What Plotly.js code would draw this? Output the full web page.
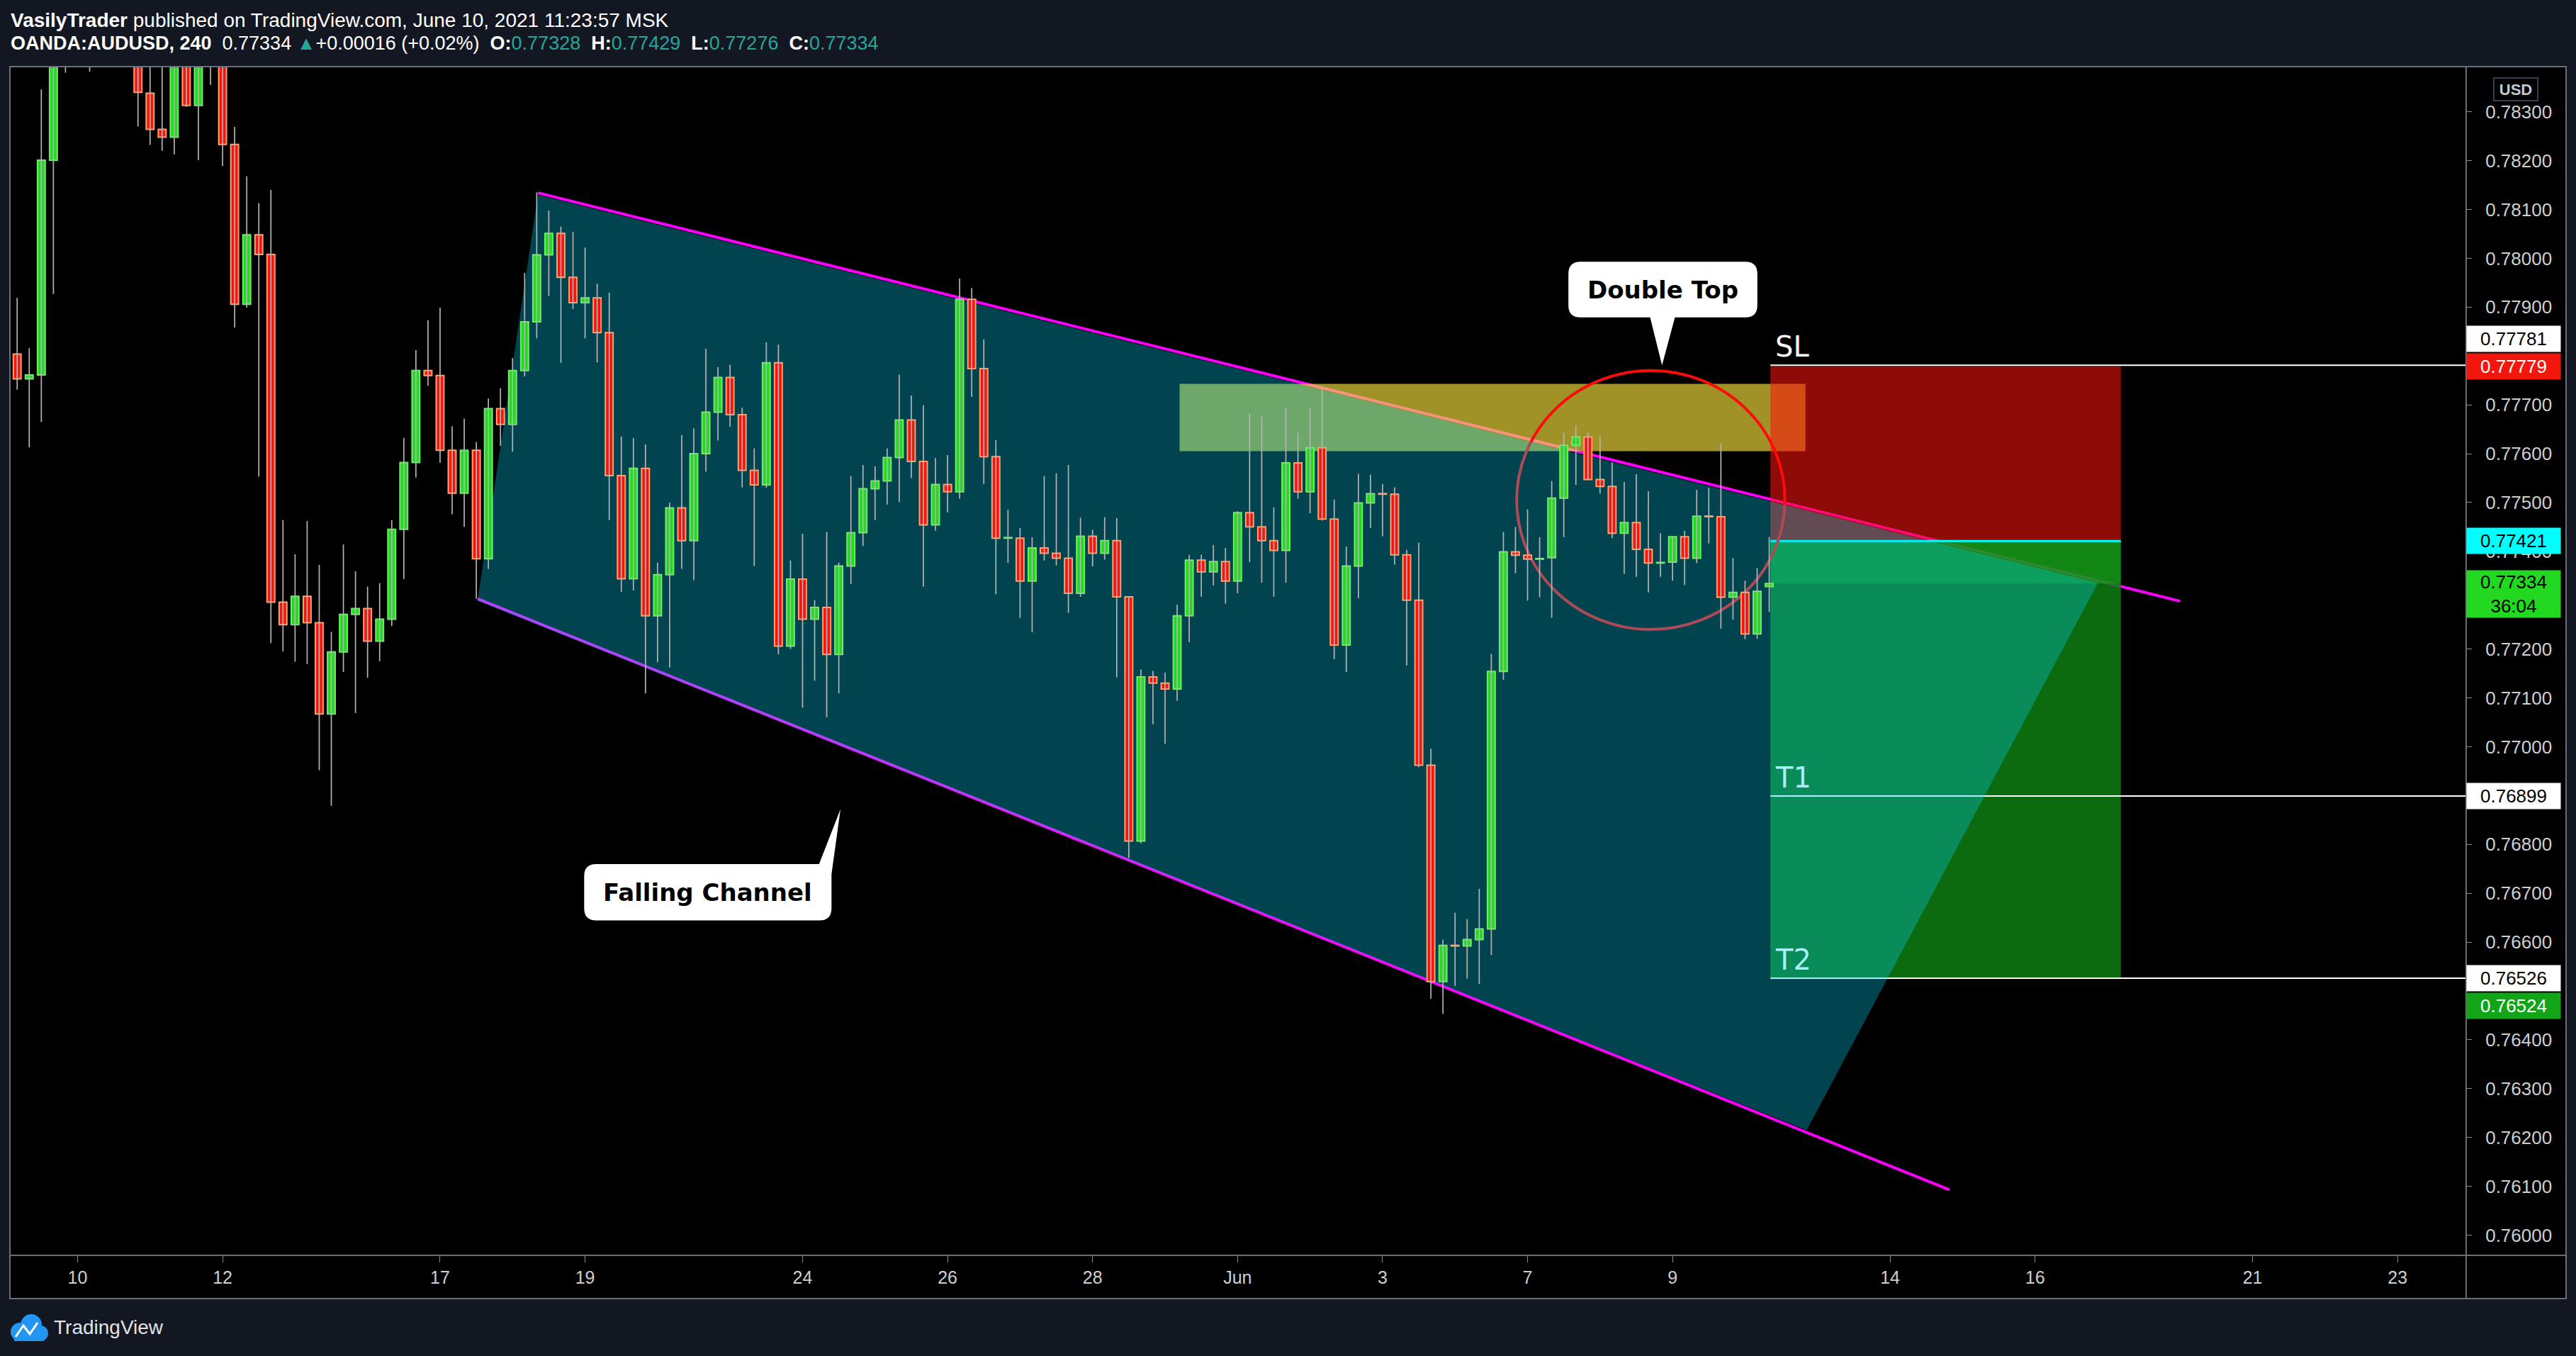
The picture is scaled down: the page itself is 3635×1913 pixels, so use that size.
<!DOCTYPE html>
<html>
<head>
<meta charset="utf-8">
<script src="https://cdn.plot.ly/plotly-3.0.1.min.js"></script>
<style>
html,body{margin:0;padding:0;background:#131722;}
#chart{width:3635px;height:1913px;}
</style>
</head>
<body>
<div id="chart"></div>
<script>
// ---------------- DATA (OANDA:AUDUSD, 4h) ----------------
const firstCandleIndex = -6; // candle index 0 = 10 May 00:00 (weekends skipped, 6 candles per day)
const candleOpen = [
0.77843,0.77804,0.77753,0.77761,0.78201,0.78420,0.78440,0.78460,0.78420,0.78445,
0.78430,0.78425,0.78338,0.78264,0.78248,0.78415,0.78313,0.78420,0.78430,0.78233,
0.77906,0.78048,0.78008,0.77296,0.77250,0.77308,0.77254,0.77067,0.77194,0.77271,
0.77283,0.77216,0.77261,0.77445,0.77582,0.77770,0.77760,0.77607,0.77519,0.77607,
0.77385,0.77692,0.77660,0.77770,0.77870,0.78007,0.78051,0.77961,0.77909,0.77919,
0.77848,0.77555,0.77344,0.77570,0.77268,0.77352,0.77489,0.77422,0.77600,0.77685,
0.77756,0.77680,0.77566,0.77536,0.77786,0.77206,0.77343,0.77261,0.77285,0.77189,
0.77370,0.77438,0.77528,0.77544,0.77592,0.77669,0.77584,0.77454,0.77537,0.77522,
0.77916,0.77774,0.77594,0.77427,0.77427,0.77339,0.77407,0.77396,0.77386,0.77314,
0.77431,0.77396,0.77422,0.77307,0.76807,0.77143,0.77130,0.77118,0.77268,0.77382,
0.77358,0.77379,0.77339,0.77479,0.77450,0.77422,0.77402,0.77581,0.77522,0.77612,
0.77466,0.77208,0.77370,0.77499,0.77518,0.77517,0.77393,0.77300,0.76962,0.76519,
0.76593,0.76592,0.76605,0.76627,0.77154,0.77399,0.77392,0.77384,0.77387,0.77509,
0.77617,0.77634,0.77547,0.77533,0.77437,0.77459,0.77404,0.77376,0.77378,0.77430,
0.77386,0.77472,0.77471,0.77306,0.77316,0.77231,0.77328];
const candleHigh = [
0.77870,0.77919,0.77816,0.78346,0.78450,0.78480,0.78490,0.78480,0.78475,0.78465,
0.78455,0.78445,0.78400,0.78400,0.78440,0.78440,0.78450,0.78460,0.78450,0.78269,
0.78168,0.78113,0.78140,0.77464,0.77394,0.77462,0.77372,0.77235,0.77414,0.77359,
0.77328,0.77335,0.77464,0.77632,0.77812,0.77873,0.77899,0.77656,0.77672,0.77624,
0.77713,0.77734,0.77796,0.77970,0.78135,0.78098,0.78065,0.78054,0.78022,0.77948,
0.77930,0.77635,0.77632,0.77619,0.77377,0.77500,0.77638,0.77652,0.77815,0.77777,
0.77782,0.77694,0.77611,0.77828,0.77823,0.77381,0.77436,0.77300,0.77440,0.77377,
0.77554,0.77577,0.77574,0.77611,0.77762,0.77719,0.77699,0.77591,0.77597,0.77959,
0.77939,0.77834,0.77628,0.77485,0.77448,0.77429,0.77554,0.77560,0.77577,0.77469,
0.77444,0.77470,0.77468,0.77307,0.77158,0.77155,0.77152,0.77291,0.77393,0.77393,
0.77413,0.77407,0.77482,0.77682,0.77677,0.77490,0.77693,0.77643,0.77693,0.77736,
0.77506,0.77410,0.77559,0.77557,0.77538,0.77531,0.77403,0.77418,0.76996,0.76605,
0.76660,0.76647,0.76709,0.77190,0.77440,0.77450,0.77486,0.77429,0.77544,0.77643,
0.77658,0.77644,0.77635,0.77582,0.77542,0.77558,0.77523,0.77437,0.77430,0.77442,
0.77526,0.77530,0.77621,0.77386,0.77340,0.77366,0.77429];
const candleLow = [
0.77790,0.77731,0.77613,0.77665,0.77927,0.78380,0.78405,0.78382,0.78400,0.78405,
0.78402,0.78270,0.78232,0.78220,0.78213,0.78310,0.78201,0.78355,0.78189,0.77858,
0.77899,0.77553,0.77212,0.77195,0.77174,0.77169,0.76952,0.76879,0.77153,0.77069,
0.77141,0.77175,0.77247,0.77343,0.77551,0.77739,0.77581,0.77476,0.77450,0.77303,
0.77364,0.77616,0.77604,0.77758,0.77836,0.77923,0.77786,0.77896,0.77836,0.77787,
0.77464,0.77317,0.77320,0.77109,0.77173,0.77162,0.77364,0.77341,0.77563,0.77627,
0.77655,0.77531,0.77370,0.77530,0.77189,0.77200,0.77080,0.77135,0.77060,0.77109,
0.77333,0.77411,0.77464,0.77496,0.77501,0.77550,0.77328,0.77442,0.77480,0.77508,
0.77716,0.77538,0.77312,0.77376,0.77264,0.77234,0.77381,0.77371,0.77274,0.77307,
0.77369,0.77383,0.77142,0.76772,0.76802,0.77046,0.77006,0.77094,0.77214,0.77307,
0.77330,0.77293,0.77314,0.77378,0.77336,0.77307,0.77336,0.77508,0.77478,0.77463,
0.77179,0.77153,0.77304,0.77448,0.77431,0.77373,0.77166,0.76958,0.76484,0.76453,
0.76510,0.76525,0.76514,0.76573,0.77137,0.77355,0.77299,0.77306,0.77264,0.77429,
0.77536,0.77547,0.77518,0.77427,0.77354,0.77348,0.77316,0.77348,0.77340,0.77331,
0.77376,0.77416,0.77242,0.77260,0.77220,0.77221,0.77276];
const candleClose = [
0.77804,0.77753,0.77761,0.78201,0.78420,0.78440,0.78460,0.78420,0.78445,0.78430,
0.78425,0.78340,0.78264,0.78248,0.78415,0.78313,0.78420,0.78430,0.78233,0.77906,
0.78048,0.78008,0.77296,0.77250,0.77308,0.77254,0.77067,0.77194,0.77271,0.77283,
0.77216,0.77261,0.77445,0.77582,0.77770,0.77760,0.77607,0.77519,0.77607,0.77385,
0.77692,0.77660,0.77770,0.77870,0.78007,0.78051,0.77961,0.77909,0.77919,0.77848,
0.77555,0.77344,0.77570,0.77268,0.77352,0.77489,0.77422,0.77600,0.77685,0.77756,
0.77680,0.77566,0.77536,0.77786,0.77206,0.77343,0.77261,0.77285,0.77189,0.77370,
0.77438,0.77528,0.77544,0.77592,0.77669,0.77584,0.77454,0.77537,0.77522,0.77916,
0.77774,0.77594,0.77427,0.77428,0.77339,0.77407,0.77396,0.77386,0.77314,0.77431,
0.77396,0.77422,0.77307,0.76807,0.77143,0.77130,0.77118,0.77268,0.77382,0.77358,
0.77379,0.77339,0.77479,0.77450,0.77422,0.77402,0.77581,0.77522,0.77612,0.77466,
0.77208,0.77370,0.77499,0.77518,0.77517,0.77393,0.77300,0.76962,0.76519,0.76593,
0.76592,0.76605,0.76627,0.77154,0.77399,0.77392,0.77384,0.77385,0.77509,0.77617,
0.77634,0.77547,0.77533,0.77437,0.77459,0.77404,0.77376,0.77377,0.77430,0.77386,
0.77472,0.77471,0.77306,0.77316,0.77231,0.77318,0.77334];

const dayTickIndex = [0,12,30,42,60,72,84,96,108,120,132,150,162,180,192];
const dayTickText  = ['10','12','17','19','24','26','28','Jun','3','7','9','14','16','21','23'];
const priceTicks = [0.760,0.761,0.762,0.763,0.764,0.765,0.766,0.767,0.768,0.769,0.770,0.771,
                    0.772,0.773,0.774,0.775,0.776,0.777,0.778,0.779,0.780,0.781,0.782,0.783];
const hiddenPriceTicks = [0.765, 0.769, 0.773, 0.778]; // covered by the price-axis labels in the original
const xRange = [-5.54, 197.62];
const yRange = [0.759585, 0.78391];

// drawings (candle index, price)
const upperLineX = [38.1, 174.0],  upperLineY = [0.78134, 0.77298];
const lowerLineX = [33.1, 154.9],  lowerLineY = [0.77303, 0.76093];
const channelFillRightX = [167.2, 143.1];             // right corners of the shaded channel (upper, lower)
const zoneX = [91.2, 143.0], zoneY = [0.77605, 0.77743]; // resistance zone
const positionX = [140.1, 169.1];
const entryPrice = 0.77421, stopPrice = 0.77779, targetPrice = 0.76524, lastPrice = 0.77334;
const levelNames = ['SL', 'T1', 'T2'];
const levelPrices = [0.77781, 0.76899, 0.76526];
const ellipseX = [119.1, 141.3], ellipseY = [0.77240, 0.77770];
const calloutText = ['Double Top', 'Falling Channel'];
const calloutX = [131.2, 52.16], calloutY = [0.77936, 0.76702];
const calloutTipX = [131.13, 63.14], calloutTipY = [0.77781, 0.76872];

// ---------------- LAYOUT GEOMETRY ----------------
const W = 3635, H = 1913;
const M = {l: 15, r: 156, t: 95, b: 142};
const plotW = W - M.l - M.r, plotH = H - M.t - M.b;
const ux = (xRange[1] - xRange[0]) / plotW;   // x units per px
const uy = (yRange[1] - yRange[0]) / plotH;   // price per px
const pxX = p => (p - M.l) / plotW;           // page px -> paper
const pxY = p => (H - M.b - p) / plotH;

const GREEN = '#25d821', GREEN_B = '#72ea6e', RED = '#f5150f', RED_B = '#ffa26f', WICK = '#b4b4b4';

// ---------------- TRACES ----------------
const candleX = candleOpen.map((_, k) => firstCandleIndex + k);
const up = candleClose.map((c, k) => c >= candleOpen[k]);
const wx = [], wy = [];
candleX.forEach((x, k) => { wx.push(x, x, null); wy.push(candleLow[k], candleHigh[k], null); });
const wicks = {type: 'scatter', mode: 'lines', x: wx, y: wy, line: {color: WICK, width: 1.7},
               hoverinfo: 'skip', connectgaps: false};
const bodies = {
  type: 'bar', x: candleX,
  base: candleOpen.map((o, k) => Math.min(o, candleClose[k])),
  y: candleOpen.map((o, k) => Math.max(Math.abs(candleClose[k] - o), 0.000012)),
  width: 0.64,
  marker: {color: up.map(u => u ? GREEN : RED), line: {color: up.map(u => u ? GREEN_B : RED_B), width: 2}},
  hoverinfo: 'skip'
};

// ---------------- SHAPES ----------------
const lineAt = (xs, ys, x) => ys[0] + (ys[1] - ys[0]) * (x - xs[0]) / (xs[1] - xs[0]);
const shapes = [];
// black chart frame (plot + axis bands)
shapes.push({type: 'rect', xref: 'paper', yref: 'paper', x0: pxX(14), x1: pxX(3621), y0: pxY(1832), y1: pxY(94),
  fillcolor: '#000000', line: {width: 0}, layer: 'below'});
// channel lines
shapes.push({type: 'line', x0: upperLineX[0], y0: upperLineY[0], x1: upperLineX[1], y1: upperLineY[1],
  line: {color: '#ff00ff', width: 4}, layer: 'below'});
shapes.push({type: 'line', x0: lowerLineX[0], y0: lowerLineY[0], x1: lowerLineX[1], y1: lowerLineY[1],
  line: {color: '#ff00ff', width: 4}, layer: 'below'});
// resistance zone
shapes.push({type: 'rect', x0: zoneX[0], x1: zoneX[1], y0: zoneY[0], y1: zoneY[1],
  fillcolor: 'rgba(246,225,60,0.65)', line: {width: 0}, layer: 'below'});
// short position: stop area, profit area, open-profit band
shapes.push({type: 'rect', x0: positionX[0], x1: positionX[1], y0: entryPrice, y1: stopPrice,
  fillcolor: 'rgba(255,20,12,0.56)', line: {width: 0}, layer: 'below'});
shapes.push({type: 'rect', x0: positionX[0], x1: positionX[1], y0: targetPrice, y1: entryPrice,
  fillcolor: 'rgba(14,126,18,0.85)', line: {width: 0}, layer: 'below'});
shapes.push({type: 'rect', x0: positionX[0], x1: positionX[1], y0: lastPrice, y1: entryPrice,
  fillcolor: 'rgba(40,210,40,0.28)', line: {width: 0}, layer: 'below'});
// SL / T1 / T2 level rays
levelPrices.forEach(p => shapes.push({type: 'line', x0: positionX[0], x1: xRange[1] + 5, y0: p, y1: p,
  line: {color: '#ffffff', width: 2}, layer: 'below'}));
// entry line
shapes.push({type: 'line', x0: positionX[0], x1: positionX[1], y0: entryPrice, y1: entryPrice,
  line: {color: '#00ffff', width: 3}, layer: 'below'});
// double top ellipse
shapes.push({type: 'circle', x0: ellipseX[0], x1: ellipseX[1], y0: ellipseY[0], y1: ellipseY[1],
  line: {color: '#ff0a0a', width: 4}, layer: 'below'});
// shaded channel
const off = 3 * uy;
const tealPts = [
  [upperLineX[0], upperLineY[0] - off],
  [channelFillRightX[0], lineAt(upperLineX, upperLineY, channelFillRightX[0]) - off],
  [channelFillRightX[1], lineAt(lowerLineX, lowerLineY, channelFillRightX[1]) + off],
  [lowerLineX[0], lowerLineY[0] - off]
];
shapes.push({type: 'path', path: 'M ' + tealPts.map(p => p[0] + ',' + p[1]).join(' L ') + ' Z',
  fillcolor: 'rgba(3,212,247,0.32)', line: {width: 0}, layer: 'below'});

// callouts (rounded boxes with pointers)
function P(cx, cy, ox, oy) { return (cx + ox * ux) + ',' + (cy - oy * uy); }
(function () {
  const cx = calloutX[0], cy = calloutY[0], hw = 133.3, hh = 39.2, r = 17;
  const path = 'M ' + P(cx, cy, -hw + r, -hh) + ' L ' + P(cx, cy, hw - r, -hh) +
    ' Q ' + P(cx, cy, hw, -hh) + ' ' + P(cx, cy, hw, -hh + r) +
    ' L ' + P(cx, cy, hw, hh - r) + ' Q ' + P(cx, cy, hw, hh) + ' ' + P(cx, cy, hw - r, hh) +
    ' L ' + P(cx, cy, 17, hh) + ' L ' + calloutTipX[0] + ',' + calloutTipY[0] +
    ' L ' + P(cx, cy, -18, hh) + ' L ' + P(cx, cy, -hw + r, hh) +
    ' Q ' + P(cx, cy, -hw, hh) + ' ' + P(cx, cy, -hw, hh - r) +
    ' L ' + P(cx, cy, -hw, -hh + r) + ' Q ' + P(cx, cy, -hw, -hh) + ' ' + P(cx, cy, -hw + r, -hh) + ' Z';
  shapes.push({type: 'path', path: path, fillcolor: '#ffffff', line: {width: 0}, layer: 'above'});
})();
(function () {
  const cx = calloutX[1], cy = calloutY[1], hw = 174.5, hh = 39.65, r = 17;
  const path = 'M ' + P(cx, cy, -hw + r, -hh) + ' L ' + P(cx, cy, 157, -hh) +
    ' L ' + calloutTipX[1] + ',' + calloutTipY[1] + ' L ' + P(cx, cy, hw, -25.3) +
    ' L ' + P(cx, cy, hw, hh - r) + ' Q ' + P(cx, cy, hw, hh) + ' ' + P(cx, cy, hw - r, hh) +
    ' L ' + P(cx, cy, -hw + r, hh) + ' Q ' + P(cx, cy, -hw, hh) + ' ' + P(cx, cy, -hw, hh - r) +
    ' L ' + P(cx, cy, -hw, -hh + r) + ' Q ' + P(cx, cy, -hw, -hh) + ' ' + P(cx, cy, -hw + r, -hh) + ' Z';
  shapes.push({type: 'path', path: path, fillcolor: '#ffffff', line: {width: 0}, layer: 'above'});
})();

// frame lines
const FRAME = '#6b6e78';
shapes.push({type: 'rect', xref: 'paper', yref: 'paper', x0: pxX(14), x1: pxX(3621), y0: pxY(1832), y1: pxY(94),
  line: {color: FRAME, width: 2}, layer: 'above'});
shapes.push({type: 'line', xref: 'paper', yref: 'paper', x0: pxX(14), x1: pxX(3621), y0: pxY(1771), y1: pxY(1771),
  line: {color: FRAME, width: 2}, layer: 'above'});
shapes.push({type: 'line', xref: 'paper', yref: 'paper', x0: pxX(3480), x1: pxX(3480), y0: pxY(1832), y1: pxY(94),
  line: {color: FRAME, width: 2}, layer: 'above'});
// TradingView logo (cloud)
[[28, 1879, 13], [44, 1869, 15], [57, 1881, 11]].forEach(c => shapes.push({type: 'circle', xref: 'paper', yref: 'paper',
  x0: pxX(c[0] - c[2]), x1: pxX(c[0] + c[2]), y0: pxY(c[1] + c[2]), y1: pxY(c[1] - c[2]),
  fillcolor: '#2196f3', line: {width: 0}, layer: 'above'}));
shapes.push({type: 'rect', xref: 'paper', yref: 'paper', x0: pxX(20), x1: pxX(62), y0: pxY(1892), y1: pxY(1880),
  fillcolor: '#2196f3', line: {width: 0}, layer: 'above'});
shapes.push({type: 'path', xref: 'paper', yref: 'paper',
  path: 'M ' + pxX(22) + ',' + pxY(1886) + ' L ' + pxX(33) + ',' + pxY(1870) + ' L ' + pxX(42) + ',' + pxY(1882) +
        ' L ' + pxX(53) + ',' + pxY(1866),
  line: {color: '#ffffff', width: 3}, layer: 'above'});

// ---------------- ANNOTATIONS ----------------
const ann = [];
const TXT = 'Liberation Sans, Arial, sans-serif';
const TEAL = '#26a69a';
const n = candleClose.length - 1;
const chg = candleClose[n] - candleClose[n - 1];
const chgPct = chg / candleClose[n - 1] * 100;
ann.push({xref: 'paper', yref: 'paper', x: pxX(13), y: pxY(29), xanchor: 'left', yanchor: 'middle', showarrow: false,
  text: '<b>VasilyTrader</b> published on TradingView.com, June 10, 2021 11:23:57 MSK',
  font: {family: TXT, size: 28, color: '#ffffff'}});
ann.push({xref: 'paper', yref: 'paper', x: pxX(13), y: pxY(61), xanchor: 'left', yanchor: 'middle', showarrow: false,
  text: '<b>OANDA:AUDUSD, 240</b>&nbsp; ' + candleClose[n].toFixed(5) + ' <span style="color:' + TEAL + '">▲</span>' +
        (chg >= 0 ? '+' : '') + chg.toFixed(5) + ' (' + (chg >= 0 ? '+' : '') + chgPct.toFixed(2) + '%)&nbsp; <b>O:</b><span style="color:' + TEAL + '">' +
        candleOpen[n].toFixed(5) + '</span>&nbsp; <b>H:</b><span style="color:' + TEAL + '">' + candleHigh[n].toFixed(5) +
        '</span>&nbsp; <b>L:</b><span style="color:' + TEAL + '">' + candleLow[n].toFixed(5) +
        '</span>&nbsp; <b>C:</b><span style="color:' + TEAL + '">' + candleClose[n].toFixed(5) + '</span>',
  font: {family: TXT, size: 27, color: '#ffffff'}});
ann.push({xref: 'paper', yref: 'paper', x: pxX(74), y: pxY(1872), xanchor: 'left', yanchor: 'middle', showarrow: false,
  text: 'TradingView', font: {family: TXT, size: 28, color: '#e0e3eb'}});
// callout texts
calloutText.forEach((t, i) => ann.push({x: calloutX[i], y: calloutY[i], xref: 'x', yref: 'y', showarrow: false,
  xanchor: 'center', yanchor: 'middle',
  text: '<b>' + t + '</b>', font: {family: 'DejaVu Sans, sans-serif', size: 34, color: '#000000'}}));
// level texts
const levelColors = ['#ffffff', '#a8eef4', '#a8eef4'];
levelNames.forEach((t, i) => ann.push({x: positionX[0], y: levelPrices[i], xref: 'x', yref: 'y', xanchor: 'left',
  yanchor: 'bottom', xshift: 5, yshift: 1, showarrow: false, text: t,
  font: {family: 'DejaVu Sans, sans-serif', size: 40, color: levelColors[i]}}));
// price-axis labels
function axisLabel(txt, price, bg, fg, shift, h, anchor) {
  ann.push({xref: 'paper', yref: 'y', x: 1, xshift: 1, y: price, yshift: shift || 0, xanchor: 'left',
    yanchor: anchor || 'middle', showarrow: false, text: txt, bgcolor: bg, width: 132, height: h || 36,
    align: 'center', valign: 'middle', borderpad: 0, font: {family: TXT, size: 26, color: fg}});
}
axisLabel(levelPrices[0].toFixed(5), levelPrices[0], '#ffffff', '#000000', 37);
axisLabel(stopPrice.toFixed(5), stopPrice, '#f2170c', '#ffffff', 0);
axisLabel(entryPrice.toFixed(5), entryPrice, '#00ffff', '#000000', 0);
axisLabel(lastPrice.toFixed(5) + '<br>36:04', lastPrice, '#22d820', '#000000', 19, 66, 'top');
axisLabel(levelPrices[1].toFixed(5), levelPrices[1], '#ffffff', '#000000', 0);
axisLabel(levelPrices[2].toFixed(5), levelPrices[2], '#ffffff', '#000000', 0);
axisLabel(targetPrice.toFixed(5), targetPrice, '#11a517', '#ffffff', -38);
ann.push({xref: 'paper', yref: 'paper', x: pxX(3550), y: pxY(126), xanchor: 'center', yanchor: 'middle',
  showarrow: false, text: '<b>USD</b>',
  bgcolor: '#000000', bordercolor: '#3a3e4a', borderwidth: 2, borderpad: 3, width: 54, height: 24,
  font: {family: TXT, size: 22, color: '#c8c8c8'}});

// ---------------- LAYOUT ----------------
const layout = {
  width: W, height: H, margin: M,
  paper_bgcolor: '#131722', plot_bgcolor: '#000000',
  showlegend: false, barmode: 'overlay', bargap: 0,
  xaxis: {type: 'linear', range: xRange, tickvals: dayTickIndex, ticktext: dayTickText,
    ticks: 'outside', ticklen: 9, tickwidth: 1, tickcolor: '#8a8a8a', showgrid: false, zeroline: false,
    showline: false, ticklabelstandoff: 0, tickfont: {family: TXT, size: 25, color: '#cfcfcf'}, fixedrange: true},
  yaxis: {side: 'right', range: yRange, tickvals: priceTicks,
    ticktext: priceTicks.map(v => hiddenPriceTicks.some(h => Math.abs(h - v) < 1e-9) ? '' : v.toFixed(5)),
    ticks: 'outside', ticklen: 8, tickwidth: 1, tickcolor: '#8a8a8a', showgrid: false, zeroline: false,
    showline: false, ticklabelstandoff: 14, tickfont: {family: TXT, size: 26, color: '#cfcfcf'}, fixedrange: true},
  shapes: shapes, annotations: ann
};

Plotly.newPlot('chart', [wicks, bodies], layout, {displayModeBar: false, staticPlot: true});
</script>
</body>
</html>
